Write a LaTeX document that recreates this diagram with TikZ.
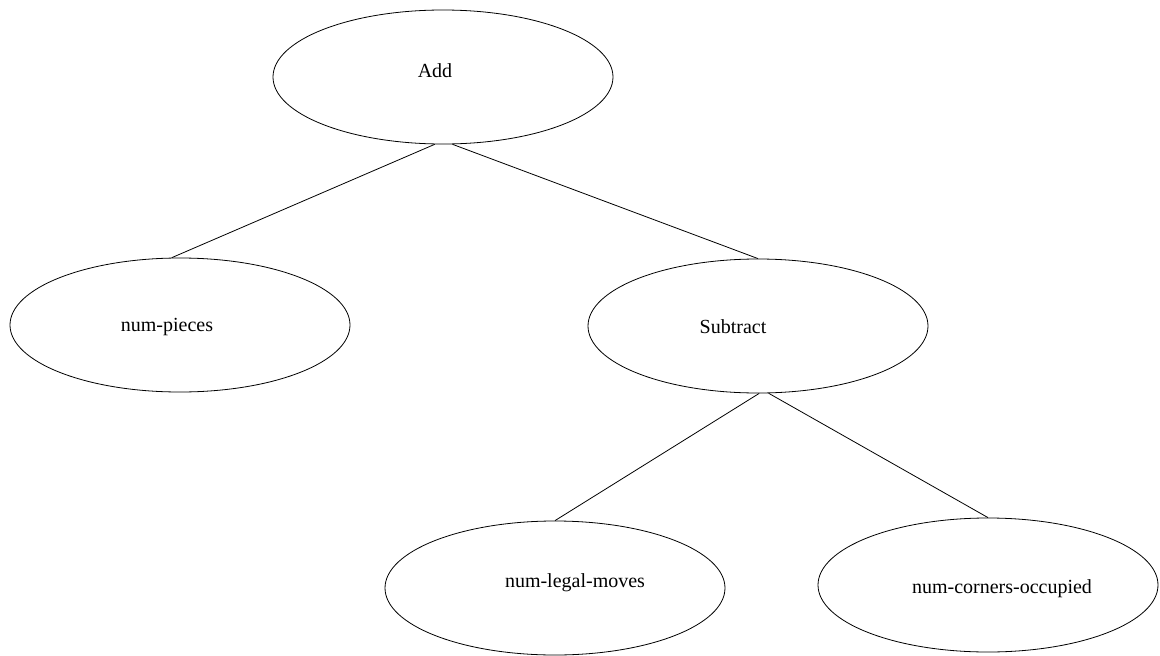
\documentclass[tikz,border=0pt]{standalone}
\usepackage{fontspec}
\setmainfont{Liberation Serif}
\usetikzlibrary{shapes.geometric}
\tikzset{
  opnode/.style={draw,ellipse,line width=.8pt,inner sep=0pt,
    minimum width=340pt,minimum height=134pt},
  optext/.style={anchor=base,inner sep=0pt,font=\fontsize{20}{24}\selectfont},
  treeedge/.style={line width=.8pt}
}
\begin{document}
\begin{tikzpicture}[x=1pt,y=-1pt]
\useasboundingbox (0,0) rectangle (1160,656);
\node[opnode,label={[optext,xshift=-8pt,yshift=6pt]center:Add}] (add) at (443,77) {};
\node[opnode,label={[optext,xshift=-13pt,yshift=-2pt]center:num-pieces}] (pieces) at (180,325) {};
\node[opnode,label={[optext,xshift=-25pt,yshift=-1pt]center:Subtract}] (sub) at (758,326) {};
\node[opnode,label={[optext,xshift=20pt,yshift=5pt]center:num-legal-moves}] (legal) at (555,588) {};
\node[opnode,label={[optext,xshift=14pt,yshift=-4pt]center:num-corners-occupied}] (corners) at (988,585) {};
% edges
\draw[treeedge] (add.263) -- (pieces.97);
\draw[treeedge] (add.278) -- (sub.90);
\draw[treeedge] (sub.271) -- (legal.90);
\draw[treeedge] (sub.279) -- (corners.90);
\end{tikzpicture}
\end{document}
